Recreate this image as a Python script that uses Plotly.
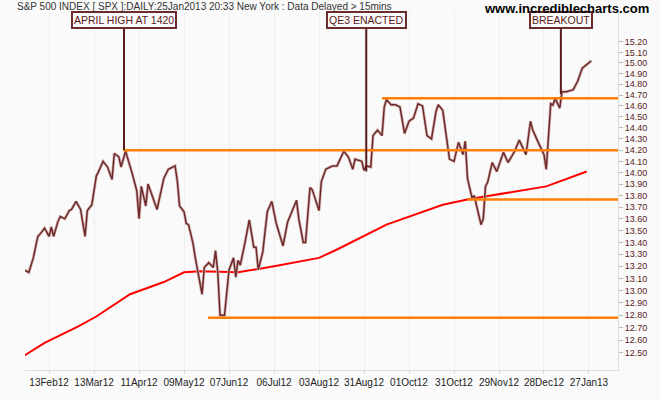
import math
import plotly.graph_objects as go

# trading-day index (0 = 13Feb12) and close (index / 100)
price_day = [-11,-9,-7,-5,-4,-2,0,1,2,4,5,7,9,10,12,14,16,17,19,21,22,24,26,28,29,31,32,34,37,39,40,41,43,44,48,51,53,55,56,57,58,60,61,62,64,65,67,68,69,71,73,74,75,76,78,80,82,83,84,85,87,89,91,92,93,95,97,99,101,103,104,106,108,110,111,113,114,116,117,120,121,123,125,126,128,131,133,135,136,139,140,141,143,144,146,148,149,150,152,154,156,158,160,162,164,166,168,170,172,173,175,177,178,180,182,184,185,186,188,189,191,192,193,194,195,197,199,202,204,207,209,212,214,215,217,220,221,223,224,225,227,228,230,233,235,237,241]
price_val = [13.17,13.15,13.27,13.45,13.47,13.52,13.45,13.53,13.45,13.58,13.62,13.60,13.67,13.68,13.75,13.68,13.45,13.67,13.72,13.97,14.01,14.10,14.05,13.94,14.17,14.14,14.05,14.19,13.99,13.84,13.60,13.88,13.71,13.90,13.68,13.95,14.03,14.05,14.06,13.93,13.71,13.66,13.56,13.55,13.39,13.27,13.07,12.97,13.19,13.23,13.19,13.33,13.15,12.80,12.80,13.17,13.27,13.11,13.25,13.21,13.39,13.59,13.36,13.36,13.17,13.32,13.66,13.75,13.56,13.44,13.37,13.57,13.66,13.76,13.60,13.40,13.40,13.87,13.85,13.67,13.92,14.03,14.05,14.06,14.06,14.19,14.14,14.03,14.12,14.10,14.02,14.06,14.05,14.33,14.38,14.33,14.59,14.66,14.61,14.61,14.59,14.35,14.46,14.49,14.62,14.60,14.33,14.30,14.55,14.61,14.56,14.25,14.12,14.10,14.27,14.16,14.28,13.95,13.78,13.80,13.63,13.55,13.60,13.88,13.92,14.09,14.01,14.18,14.09,14.19,14.29,14.16,14.46,14.38,14.29,14.16,14.03,14.62,14.61,14.67,14.58,14.73,14.73,14.75,14.83,14.95,15.02]

ma_day = [-11,-2,13,21,36,51,60,67,84,100,120,128,150,175,187,221,239]
ma_val = [12.48,12.58,12.71,12.79,12.97,13.07,13.15,13.16,13.15,13.20,13.27,13.34,13.55,13.72,13.77,13.88,14.01]

tick_days = list(range(0, 241, 20))
tick_text = ["13Feb12","13Mar12","11Apr12","09May12","07Jun12","06Jul12","03Aug12",
             "31Aug12","01Oct12","31Oct12","29Nov12","28Dec12","27Jan13"]
y_ticks = [round(12.5 + 0.1*i, 2) for i in range(28)]

# support/resistance levels: (start day, level)
levels = [(33, 14.20), (148, 14.67), (186, 13.765), (70.7, 12.78)]
# annotations: (label, day, level where pointer ends)
callouts = [("APRIL HIGH AT 1420", 33.3, 14.20), ("QE3 ENACTED", 141, 14.01), ("BREAKOUT", 227.5, 14.71)]

XMAX = 252.9
YTOP = 15.488
fig = go.Figure()
fig.add_trace(go.Scatter(x=ma_day, y=ma_val, mode="lines", line=dict(color="#ff0000", width=2)))
fig.add_trace(go.Scatter(x=price_day, y=price_val, mode="lines", line=dict(color="#d9b3b3", width=3.0)))
fig.add_trace(go.Scatter(x=price_day, y=price_val, mode="lines", line=dict(color="#6b2c2c", width=1.5)))

for d, lv in levels:
    fig.add_shape(type="line", x0=d, x1=XMAX, y0=lv, y1=lv, xref="x", yref="y",
                  line=dict(color="#ff8000", width=2.5))
for txt, d, lv in callouts:
    fig.add_shape(type="line", x0=d, x1=d, y0=lv, y1=15.38, xref="x", yref="y",
                  line=dict(color="#5a1a1a", width=2))
    fig.add_annotation(x=d, y=math.log10(15.409), xref="x", yref="y", text=txt, showarrow=False,
                       font=dict(family="Liberation Sans", size=10.5, color="#5a1a1a"),
                       bgcolor="#fafafa", bordercolor="#6b2c2c", borderwidth=2, borderpad=1)

fig.add_annotation(x=-0.017, y=1.016, xref="paper", yref="paper", xanchor="left", yanchor="middle",
                   text="S&P 500 INDEX [ SPX ]:DAILY:25Jan2013 20:33 New York : Data Delayed > 15mins",
                   showarrow=False, font=dict(family="Liberation Sans", size=10, color="#333333"))
fig.add_annotation(x=1.056, y=1.011, xref="paper", yref="paper", xanchor="right", yanchor="middle",
                   text="<b>www.incrediblecharts.com</b>", showarrow=False,
                   font=dict(family="Liberation Sans", size=13, color="#000000"))

fig.update_layout(
    width=660, height=400, margin=dict(l=25, r=42, t=12, b=16),
    paper_bgcolor="#fafafa", plot_bgcolor="#fafafa", showlegend=False,
    xaxis=dict(range=[-10.7, XMAX], tickvals=tick_days, ticktext=tick_text, showgrid=True,
               gridcolor="#eeeeee", zeroline=False, showline=True, linecolor="#dddddd",
               tickangle=0, tickfont=dict(family="Liberation Sans", size=10, color="#222222"),
               ticks="outside", ticklen=3, tickcolor="#dddddd"),
    yaxis=dict(type="log", side="right", range=[math.log10(12.367), math.log10(YTOP)],
               tickvals=y_ticks, ticktext=[f"{v:.2f}" for v in y_ticks], showgrid=False,
               zeroline=False, showline=True, linecolor="#dddddd", ticks="outside", ticklen=4,
               tickcolor="#bbbbbb", tickfont=dict(family="Liberation Sans", size=9, color="#5a1a1a")),
)
fig.write_html("out.html", config={"displayModeBar": False},
               post_script="document.body.style.margin='0';document.body.style.overflow='hidden';"
                           "document.documentElement.style.overflow='hidden';"
                           "document.body.style.height='400px';")
